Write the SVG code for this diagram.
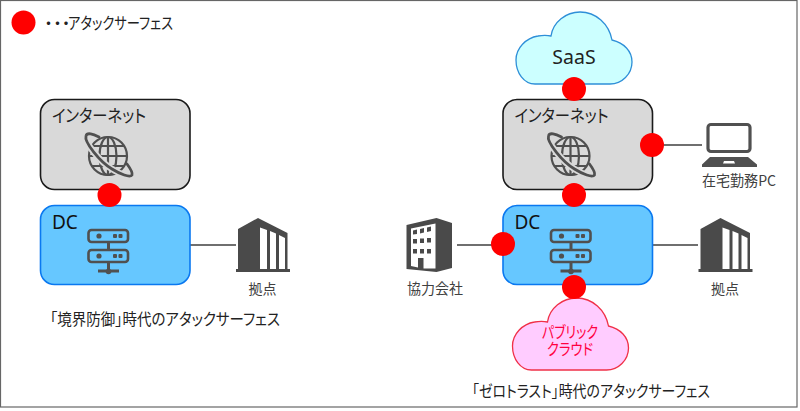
<svg xmlns="http://www.w3.org/2000/svg" width="800" height="411" viewBox="0 0 800 411">
<style>
text{font-family:"Noto Sans CJK JP","Noto Sans",sans-serif;fill:#222;font-feature-settings:"palt"}
.lat{font-family:"Noto Sans","Noto Sans CJK JP",sans-serif}
.t{font-size:16px}.s{font-size:14px;fill:#404040}
.h{font-size:17.500px}
.net{fill:#d9d9d9;stroke:#1a1a1a;stroke-width:1.6}
.dc{fill:#66c7ff;stroke:#0a78f0;stroke-width:1.6}
.as{fill:#ff0000}
.ln{stroke:#404040;stroke-width:1.3;fill:none}
.ic{stroke:#505050;fill:none;stroke-width:2.200}
.icf{fill:#505050}
.bd{fill:#4a4a4a}
</style>
<defs>
<path id="cloud" d="M19 72C8 72 0 61 0 48C0 36 10 26 22 24C27 23 31 23 35 24C37 10 50 0 64 0C80 0 93 12 96 28C108 31 116 39 116 50C116 62 106 72 94 72Z"/>
<g id="globe">
<circle cx="0" cy="0" r="19" class="ic"/>
<ellipse cx="0" cy="0" rx="8.500" ry="19" class="ic"/>
<path d="M0-19V19M-19 0H19M-16-10H16M-16 10H16" class="ic"/>
<path d="M-22-20C-24-14-8 6 4 13C12 18 22 22 24 19" fill="none" stroke="#d9d9d9" stroke-width="6.500"/>
<path d="M-9-19C-15-22-21-24-22-20C-24-14-8 6 4 13C12 18 22 22 24 19C25 16 22 12 19 8" fill="none" stroke="#505050" stroke-width="2.800" stroke-linecap="round"/>
</g>
<g id="server">
<rect x="-20" y="-25" width="39.500" height="12" rx="3" class="ic" style="stroke-width:2.600"/>
<rect x="-20" y="-5" width="39.500" height="12" rx="3" class="ic" style="stroke-width:2.600"/>
<circle cx="-9.500" cy="-19" r="2.600" class="icf"/><rect x="4.500" y="-21" width="4" height="4" rx="1" class="icf"/><rect x="10" y="-21" width="4" height="4" rx="1" class="icf"/>
<circle cx="-9.500" cy="1" r="2.600" class="icf"/><rect x="4.500" y="-1" width="4" height="4" rx="1" class="icf"/><rect x="10" y="-1" width="4" height="4" rx="1" class="icf"/>
<path d="M0-13V-5M0 7V16M-10.500 16H10.500" class="ic" style="stroke-width:3"/>
<circle cx="0" cy="16.500" r="2.800" class="icf"/>
</g>
<g id="hq">
<path class="bd" fill-rule="evenodd" d="M2 11L22 0L51.500 15V51H54V54H0V51H2ZM24 9.500V51H31V12ZM34 13V51H40V15.500ZM43 17V51H49V20Z"/>
</g>
<g id="office">
<path class="bd" fill-rule="evenodd" d="M0 7L30 0L45.500 5V50L30 54L0 51ZM4.500 10.500V48L11.500 49.500V40H17V50.500H29V5.500Z"/>
<path class="bd" d="M6.500 12.500L10.500 11.500V16L6.500 16.500ZM13.500 11L17.500 10V14.500L13.500 15.500ZM20.500 9.500L24.500 8.500V13L20.500 14ZM6.500 21H10.500V25.500H6.500ZM13.500 20.500H17.500V25H13.500ZM20.500 20H24.500V24.500H20.500ZM6.500 31H10.500V35.500H6.500ZM13.500 31H17.500V35.500H13.500ZM20.500 31H24.500V35.500H20.500Z"/>
</g>
</defs>
<rect id="frame" x="0.500" y="0.500" width="796.500" height="406.500" fill="#fff" stroke="#666" stroke-width="1.200"/>
<g id="connectors">
<path class="ln" d="M190 245H236M652 245H698M457 245H503M652 145H702"/>
</g>
<g id="inet-left"><rect class="net" x="40.500" y="99.500" width="149.500" height="90" rx="14"/><text class="h" x="52" y="122" textLength="94" lengthAdjust="spacingAndGlyphs">インターネット</text><use href="#globe" x="108" y="156"/></g>
<g id="dc-left"><rect class="dc" x="40.500" y="205.500" width="149.500" height="79" rx="14"/><text class="lat" x="52" y="228.500" font-size="19" style="fill:#111">DC</text><use href="#server" x="108.500" y="255"/></g>
<g id="site-left"><use href="#hq" x="236" y="218"/><text class="s" x="262.500" y="294" text-anchor="middle">拠点</text></g>
<g id="saas"><use href="#cloud" x="516" y="12" fill="#ccffff" stroke="#2e8fd8" stroke-width="1.300"/><text class="lat" x="574" y="64" font-size="19.500" text-anchor="middle">SaaS</text></g>
<g id="inet-right"><rect class="net" x="503" y="99.500" width="149.500" height="90" rx="14"/><text class="h" x="514.500" y="122" textLength="94" lengthAdjust="spacingAndGlyphs">インターネット</text><use href="#globe" x="570.500" y="156"/></g>
<g id="dc-right"><rect class="dc" x="503" y="205.500" width="149.500" height="79" rx="14"/><text class="lat" x="514.500" y="228.500" font-size="19" style="fill:#111">DC</text><use href="#server" x="571" y="255"/></g>
<g id="pc">
<rect x="708" y="124.500" width="42" height="27" rx="3" class="ic" style="stroke-width:3.200"/>
<path class="icf" fill-rule="evenodd" d="M710 157H748L757 164.500V167H702V164.500ZM724 161L723 163.500H735L734 161Z"/>
<text class="s" x="739" y="186" style="font-size:14.500px" text-anchor="middle" textLength="74" lengthAdjust="spacingAndGlyphs">在宅勤務PC</text></g>
<g id="partner"><use href="#office" x="406.500" y="218"/><text class="s" x="435" y="294" style="font-size:14.500px" text-anchor="middle" textLength="56" lengthAdjust="spacingAndGlyphs">協力会社</text></g>
<g id="site-right"><use href="#hq" x="698.500" y="218"/><text class="s" x="725" y="294" text-anchor="middle">拠点</text></g>
<g id="public"><use href="#cloud" x="512.500" y="298" fill="#ffccff" stroke="#f03048" stroke-width="1.300"/><text font-size="15.500" text-anchor="middle" style="fill:#ff0040"><tspan x="570" y="338" textLength="56" lengthAdjust="spacingAndGlyphs">パブリック</tspan><tspan x="570" y="355" textLength="46" lengthAdjust="spacingAndGlyphs">クラウド</tspan></text></g>
<g id="surfaces">
<circle class="as" cx="23.500" cy="22.500" r="12"/>
<circle class="as" cx="109.500" cy="195" r="12"/>
<circle class="as" cx="574" cy="89" r="12"/>
<circle class="as" cx="652" cy="145" r="12"/>
<circle class="as" cx="574" cy="195" r="12"/>
<circle class="as" cx="503" cy="244" r="12"/>
<circle class="as" cx="574" cy="287" r="12"/>
</g>
<g id="labels">
<text class="t" y="29"><tspan x="44.500 53.500 62">・・・</tspan><tspan x="68" textLength="105" lengthAdjust="spacingAndGlyphs">アタックサーフェス</tspan></text>
<text class="t" x="50" y="325" textLength="230" lengthAdjust="spacingAndGlyphs">「境界防御」時代のアタックサーフェス</text>
<text class="t" x="472" y="397" textLength="238" lengthAdjust="spacingAndGlyphs">「ゼロトラスト」時代のアタックサーフェス</text>
</g>
</svg>
